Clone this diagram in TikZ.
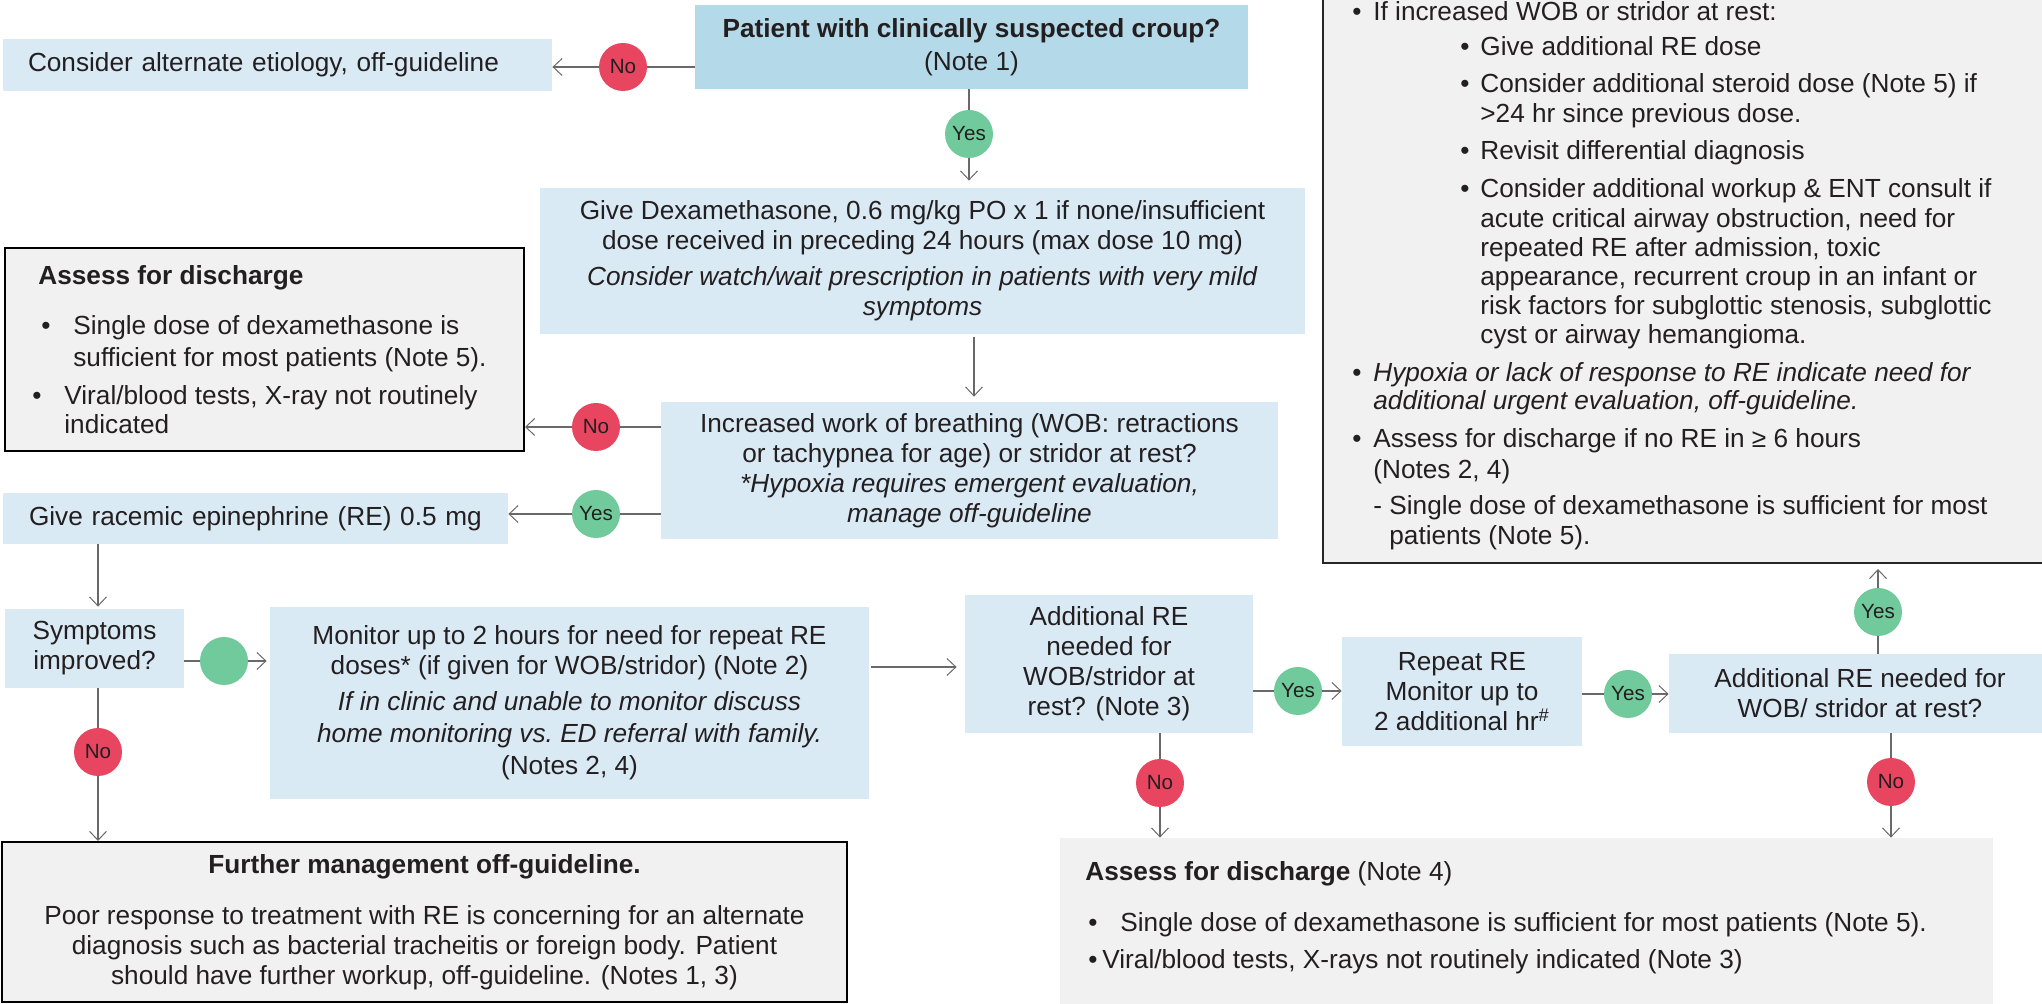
\documentclass[tikz,border=0pt]{standalone}
\usepackage{fontspec}
\setmainfont{Liberation Sans}
\usetikzlibrary{arrows.meta}
\definecolor{lblue}{RGB}{218,234,245}
\definecolor{tblue}{RGB}{180,218,234}
\definecolor{lgray}{RGB}{241,241,241}
\definecolor{cred}{RGB}{232,69,96}
\definecolor{cgreen}{RGB}{112,202,155}
\definecolor{txt}{RGB}{35,31,32}
\definecolor{conn}{RGB}{105,105,105}
\begin{document}
\begin{tikzpicture}[x=0.5pt,y=-0.5pt,
  fnt/.style={font=\fontsize{13.1}{15}\selectfont, text=txt},
  sz/.style 2 args={minimum width={(#1)*0.5pt}, minimum height={(#2)*0.5pt}},
  box/.style={fnt, fill=lblue, inner sep=0pt, align=center},
  gbox/.style={fnt, fill=lgray, inner sep=0pt, align=center},
  tl/.style={fnt, anchor=base west, inner sep=0pt},
  circ/.style={circle, minimum size=24pt, inner sep=0pt, font=\fontsize{10.3}{12}\selectfont, text=txt},
  yesc/.style={circ, fill=cgreen},
  noc/.style={circ, fill=cred},
  ln/.style={draw=conn, line width=0.6pt},
  arr/.style={ln, -{Straight Barb[length=4.5pt,width=8.5pt,line width=0.5pt]}}
]
\useasboundingbox (0,0) rectangle (2042,1004);
\clip (0,0) rectangle (2042,1004);

% boxes
\node[box, fill=tblue, sz={553}{84}] (top) at (971.5,47) {\textbf{Patient with clinically suspected croup?}\\[1.5pt](Note 1)};
\node[box, align=left, text width=249.5pt, inner xsep=12.5pt, sz={549}{52}] (alt) at (277.5,65) {Consider alternate etiology, off-guideline};
\node[box, sz={765}{146}] (dex) at (922.5,261) {Give Dexamethasone, 0.6 mg/kg PO x 1 if none/insufficient\\ dose received in preceding 24 hours (max dose 10 mg)\\[3pt] \textit{Consider watch/wait prescription in patients with very mild}\\ \textit{symptoms}};
\node[box, sz={617}{137}] (wob) at (969.5,470.5) {Increased work of breathing (WOB: retractions\\ or tachypnea for age) or stridor at rest?\\ \textit{*Hypoxia requires emergent evaluation,}\\ \textit{manage off-guideline}};
\node[gbox, draw=black, line width=1pt, sz={519}{203}] (la) at (264.5,349.5) {};
\node[box, align=left, text width=226.5pt, inner xsep=13pt, sz={505}{51}] (re) at (255.5,518.5) {Give racemic epinephrine (RE) 0.5 mg};
\node[box, sz={179}{79}] (sym) at (94.5,648.5) {Symptoms\\ improved?};
\node[box, sz={599}{192}] (mon) at (569.5,703) {Monitor up to 2 hours for need for repeat RE\\ doses* (if given for WOB/stridor) (Note 2)\\[3pt] \textit{If in clinic and unable to monitor discuss}\\[1pt] \textit{home monitoring vs.\ ED referral with family.}\\[1pt] (Notes 2, 4)};
\node[box, sz={288}{138}] (a1) at (1109,664) {Additional RE\\ needed for\\ WOB/stridor at\\ rest? (Note 3)};
\node[box, sz={240}{109}] (rep) at (1462,691.5) {Repeat RE\\ Monitor up to\\ 2 additional hr\textsuperscript{\#}};
\node[box, sz={382}{79}] (a2) at (1860,693.5) {Additional RE needed for\\ WOB/ stridor at rest?};
\node[gbox, draw=black!85, line width=1pt, sz={737}{573}] (big) at (1691.5,276.5) {};
\node[gbox, draw=black, line width=1pt, sz={845}{160}] (fur) at (424.5,922) {\textbf{Further management off-guideline.}\\[10.5pt] Poor response to treatment with RE is concerning for an alternate\\ diagnosis such as bacterial tracheitis or foreign body. Patient\\ should have further workup, off-guideline. (Notes 1, 3)};
\node[gbox, sz={933}{177}] (dis) at (1526.5,926.5) {};

% decision circles
\node[noc] (n1) at (623,67) {No};
\node[yesc] (y1) at (969,134) {Yes};
\node[noc] (n2) at (596,427) {No};
\node[yesc] (y2) at (596,514) {Yes};
\node[yesc] (g3) at (224,661) {};
\node[noc] (n3) at (98,752) {No};
\node[yesc] (y4) at (1298,691) {Yes};
\node[noc] (n4) at (1160,783) {No};
\node[yesc] (y5) at (1628,694) {Yes};
\node[yesc] (y6) at (1878,612) {Yes};
\node[noc] (n6) at (1891,782) {No};

\coordinate (c974) at (974,0);
\coordinate (c98) at (98,0);
\coordinate (c667) at (0,667);

% connectors
\draw[ln] (top.west |- n1) -- (n1);
\draw[arr] (n1) -- (alt.east |- n1);
\draw[ln] (top.south -| y1) -- (y1);
\draw[arr, shorten >=3.5pt] (y1) -- (dex.north -| y1);
\draw[arr, shorten <=1.5pt, shorten >=2.5pt] (dex.south -| c974) -- (wob.north -| c974);
\draw[ln] (wob.west |- n2) -- (n2);
\draw[arr] (n2) -- (la.east |- n2);
\draw[ln] (wob.west |- y2) -- (y2);
\draw[arr] (y2) -- (re.east |- y2);
\draw[arr, shorten >=1pt] (re.south -| c98) -- (sym.north -| c98);
\draw[ln] (sym.east |- g3) -- (g3);
\draw[arr, shorten >=1.5pt] (g3) -- (mon.west |- g3);
\draw[ln] (sym.south -| n3) -- (n3);
\draw[arr] (n3) -- (fur.north -| n3);
\draw[arr, shorten <=1pt, shorten >=4pt] (mon.east |- c667) -- (a1.west |- c667);
\draw[ln] (a1.east |- y4) -- (y4);
\draw[arr] (y4) -- (rep.west |- y4);
\draw[ln] (rep.east |- y5) -- (y5);
\draw[arr] (y5) -- (a2.west |- y5);
\draw[ln] (a2.north -| y6) -- (y6);
\draw[arr, shorten >=2.5pt] (y6) -- (big.south -| y6);
\draw[ln] (a2.south -| n6) -- (n6);
\draw[arr] (n6) -- (dis.north -| n6);
\draw[ln] (a1.south -| n4) -- (n4);
\draw[arr] (n4) -- (dis.north -| n4);

% left assess box text
\node[tl] (la0) at (38,285) {\textbf{Assess for discharge}};
\node[tl] (la1b) at (41,335) {\textbullet};
\node[tl] (la1) at (73,335) {Single dose of dexamethasone is};
\node[tl] (la2) at (73,367) {sufficient for most patients (Note 5).};
\node[tl] (la3b) at (32,405) {\textbullet};
\node[tl] (la3) at (64,405) {Viral/blood tests, X-ray not routinely};
\node[tl] (la4) at (64,434) {indicated};

% big right box text
\node[tl] (b1b) at (1352,21) {\textbullet};
\node[tl] (b1) at (1373,21) {If increased WOB or stridor at rest:};
\node[tl] (b2b) at (1460,56) {\textbullet};
\node[tl] (b2) at (1480,56) {Give additional RE dose};
\node[tl] (b3b) at (1460,93) {\textbullet};
\node[tl] (b3) at (1480,93) {Consider additional steroid dose (Note 5) if};
\node[tl] (b4) at (1480,123) {>24 hr since previous dose.};
\node[tl] (b5b) at (1460,160) {\textbullet};
\node[tl] (b5) at (1480,160) {Revisit differential diagnosis};
\node[tl] (b6b) at (1460,198) {\textbullet};
\node[tl] (b6) at (1480,198) {Consider additional workup \& ENT consult if};
\node[tl] (b7) at (1480,228) {acute critical airway obstruction, need for};
\node[tl] (b8) at (1480,257) {repeated RE after admission, toxic};
\node[tl] (b9) at (1480,286) {appearance, recurrent croup in an infant or};
\node[tl] (b10) at (1480,315) {risk factors for subglottic stenosis, subglottic};
\node[tl] (b11) at (1480,344) {cyst or airway hemangioma.};
\node[tl] (b12b) at (1352,382) {\textbullet};
\node[tl] (b12) at (1373,382) {\textit{Hypoxia or lack of response to RE indicate need for}};
\node[tl] (b13) at (1373,410) {\textit{additional urgent evaluation, off-guideline.}};
\node[tl] (b14b) at (1352,448) {\textbullet};
\node[tl] (b14) at (1373,448) {Assess for discharge if no RE in ≥ 6 hours};
\node[tl] (b15) at (1373,479) {(Notes 2, 4)};
\node[tl] (b16) at (1373,515) {- Single dose of dexamethasone is sufficient for most};
\node[tl] (b17) at (1389,545) {patients (Note 5).};

% bottom discharge box text
\node[tl] (d0) at (1085,881) {\textbf{Assess for discharge} (Note 4)};
\node[tl] (d1b) at (1088,932) {\textbullet};
\node[tl] (d1) at (1120,932) {Single dose of dexamethasone is sufficient for most patients (Note 5).};
\node[tl] (d2b) at (1088,969) {\textbullet};
\node[tl] (d2) at (1102,969) {Viral/blood tests, X-rays not routinely indicated (Note 3)};
\end{tikzpicture}
\end{document}
